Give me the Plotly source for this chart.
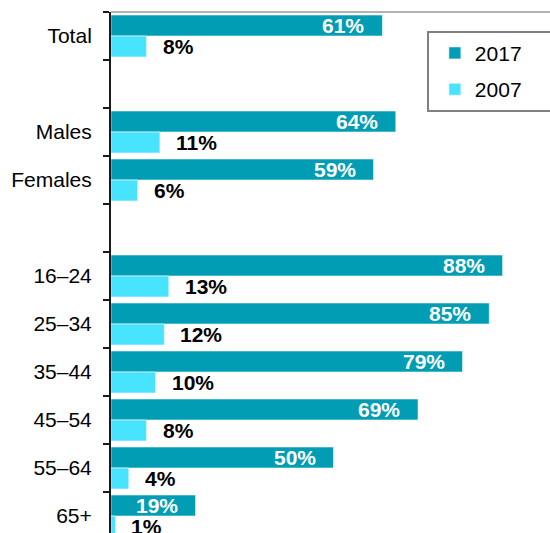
import plotly.graph_objects as go

categories = ["Total", "\u200b", "Males", "Females", "\u200b\u200b",
              "16\u201324", "25\u201334", "35\u201344", "45\u201354", "55\u201364", "65+"]
v2017 = [61, None, 64, 59, None, 88, 85, 79, 69, 50, 19]
v2007 = [8, None, 11, 6, None, 13, 12, 10, 8, 4, 1]
series_names = ["2017", "2007"]

C2017 = "#019db5"
C2007 = "#48e4ff"
FONT = "Liberation Sans, Arial, sans-serif"
PAD = "\u00a0" * 4

fig = go.Figure()
fig.add_trace(go.Bar(name=series_names[0] + PAD, y=categories, x=v2017, orientation="h",
                     marker=dict(color=C2017, line=dict(color="rgba(255,255,255,0.55)", width=1)),
                     legendgroup="a"))
fig.add_trace(go.Bar(name=series_names[1] + PAD, y=categories, x=v2007, orientation="h",
                     marker=dict(color=C2007, line=dict(color="rgba(255,255,255,0.55)", width=1)),
                     legendgroup="b"))

ann = []
shift = 0.21875 * 48
for c, a, b in zip(categories, v2017, v2007):
    if a is None:
        continue
    ann.append(dict(x=a, y=c, xref="x", yref="y", text=f"<b>{a}%</b>", showarrow=False,
                    xanchor="right", yanchor="middle", xshift=-16, yshift=shift,
                    font=dict(color="white", size=21, family=FONT)))
    ann.append(dict(x=b, y=c, xref="x", yref="y", text=f"<b>{b}%</b>", showarrow=False,
                    xanchor="left", yanchor="middle", xshift=14, yshift=-shift,
                    font=dict(color="black", size=21, family=FONT)))

fig.update_layout(
    width=550, height=533,
    margin=dict(l=111, r=0, t=12, b=0, autoexpand=False),
    barmode="group", bargap=0.125, bargroupgap=0,
    plot_bgcolor="white", paper_bgcolor="white",
    font=dict(family=FONT, size=21, color="black"),
    annotations=ann,
    legend=dict(x=0.7195, y=0.964, xanchor="left", yanchor="top",
                bordercolor="#808080", borderwidth=2, bgcolor="white",
                font=dict(size=21, family=FONT), tracegroupgap=6,
                itemwidth=30, indentation=6),
    xaxis=dict(visible=False, range=[0, 98.65]),
    yaxis=dict(type="category", categoryorder="array", categoryarray=categories,
               range=[10.354, -0.5], showline=True, linecolor="#1a1a1a", linewidth=2,
               ticks="outside", ticklen=6, tickcolor="#1a1a1a", tickwidth=1.5,
               tickson="boundaries", ticklabelstandoff=13, showgrid=False, zeroline=False),
    shapes=[dict(type="line", xref="paper", yref="paper", x0=0, x1=1, y0=1, y1=1,
                 line=dict(color="#b3b3b3", width=2))],
)

fig.write_html("out.html", config={"displayModeBar": False},
               post_script="document.body.style.margin='0';document.body.style.overflow='hidden';")
